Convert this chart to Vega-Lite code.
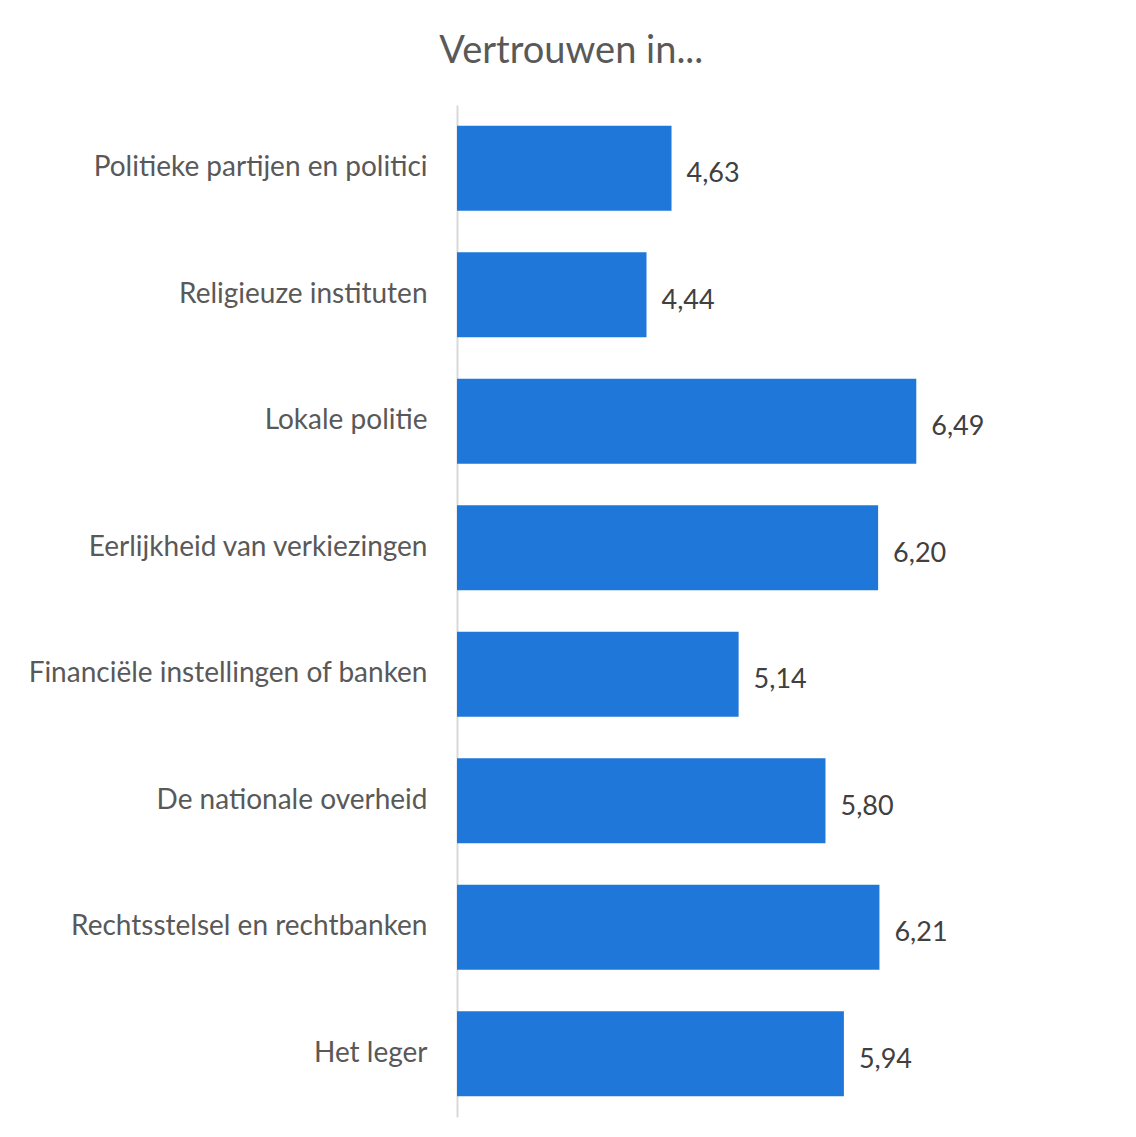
{
  "$schema": "https://vega.github.io/schema/vega-lite/v6.json",
  "autosize": {"type": "none"},
  "width": 658,
  "height": 1012,
  "padding": {"left": 457, "top": 105, "right": 21, "bottom": 20},
  "background": "white",
  "config": {
    "font": "Lato",
    "view": {"stroke": null},
    "locale": {"number": {"decimal": ",", "thousands": ".", "grouping": [3], "currency": ["€", ""]}}
  },
  "title": {
    "text": "Vertrouwen in...",
    "frame": "bounds",
    "anchor": "middle",
    "fontSize": 38,
    "fontWeight": "normal",
    "color": "#595959",
    "offset": 34
  },
  "data": {
    "values": [
      {"categorie": "Politieke partijen en politici", "waarde": 4.63},
      {"categorie": "Religieuze instituten", "waarde": 4.44},
      {"categorie": "Lokale politie", "waarde": 6.49},
      {"categorie": "Eerlijkheid van verkiezingen", "waarde": 6.20},
      {"categorie": "Financiële instellingen of banken", "waarde": 5.14},
      {"categorie": "De nationale overheid", "waarde": 5.80},
      {"categorie": "Rechtsstelsel en rechtbanken", "waarde": 6.21},
      {"categorie": "Het leger", "waarde": 5.94}
    ]
  },
  "encoding": {
    "y": {
      "field": "categorie",
      "type": "nominal",
      "sort": null,
      "scale": {"paddingInner": 0.33, "paddingOuter": 0.165},
      "axis": {
        "title": null,
        "ticks": false,
        "labelFontSize": 28,
        "labelColor": "#595959",
        "labelPadding": 30,
        "labelLimit": 500,
        "domainColor": "#d9d9d9",
        "domainWidth": 2
      }
    },
    "x": {
      "field": "waarde",
      "type": "quantitative",
      "scale": {"domain": [3, 8], "zero": false, "nice": false},
      "axis": null
    }
  },
  "layer": [
    {"mark": {"type": "bar", "color": "#1f78d9"}, "encoding": {"x2": {"datum": 3}}},
    {
      "mark": {"type": "text", "align": "left", "dx": 15, "dy": 6, "fontSize": 27, "color": "#404040"},
      "encoding": {"text": {"field": "waarde", "type": "quantitative", "format": ".2f"}}
    }
  ]
}
